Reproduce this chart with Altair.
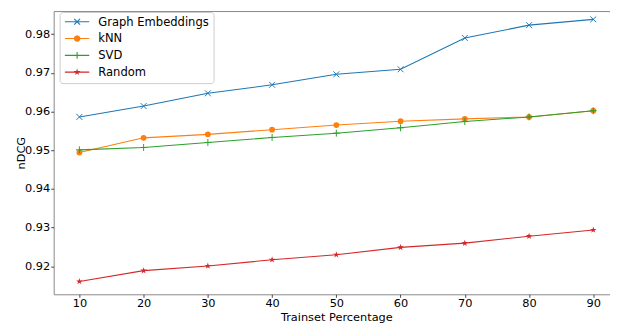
import math
import altair as alt
import pandas as pd

# ---- data ----
pct = [10, 20, 30, 40, 50, 60, 70, 80, 90]
graph_emb = [0.9586, 0.9614, 0.9647, 0.9669, 0.9696, 0.9709, 0.9790, 0.9823, 0.9838]
knn = [0.9494, 0.9532, 0.9541, 0.9553, 0.9565, 0.9575, 0.9581, 0.9586, 0.9602]
svd = [0.9501, 0.9507, 0.9520, 0.9533, 0.9544, 0.9558, 0.9574, 0.9586, 0.9602]
rand = [0.9161, 0.9189, 0.9201, 0.9217, 0.9230, 0.9249, 0.9260, 0.9278, 0.9294]
series_names = ["Graph Embeddings", "kNN", "SVD", "Random"]
y_ticks = [0.92, 0.93, 0.94, 0.95, 0.96, 0.97, 0.98]

colors = ["#1f77b4", "#ff7f0e", "#2ca02c", "#d62728"]

rows = []
for name, vals in zip(series_names, [graph_emb, knn, svd, rand]):
    for p, v in zip(pct, vals):
        rows.append({"pct": p, "value": v, "series": name})
df = pd.DataFrame(rows)

# ---- marker shapes (unit paths) ----
def star_pts(cx, r):
    pts = []
    for k in range(10):
        ang = math.radians(-90 + 36 * k)
        rr = r if k % 2 == 0 else r * 0.382
        pts.append((cx + rr * math.cos(ang), rr * math.sin(ang)))
    return pts

def poly(pts):
    return "M" + "L".join(f"{x:.3f},{y:.3f}" for x, y in pts) + "Z"

def bar(p0, p1, t):
    dx, dy = p1[0] - p0[0], p1[1] - p0[1]
    ln = math.hypot(dx, dy)
    ux, uy = dx / ln, dy / ln
    nx, ny = -uy, ux
    return poly([(p0[0] - nx * t, p0[1] - ny * t), (p1[0] - nx * t, p1[1] - ny * t),
                 (p1[0] + nx * t, p1[1] + ny * t), (p0[0] + nx * t, p0[1] + ny * t)])

def circ(cx, r, n=28):
    return poly([(cx + r * math.cos(2 * math.pi * k / n), r * math.sin(2 * math.pi * k / n))
                 for k in range(n)])

x_path = "M-1,-1L1,1M-1,1L1,-1"
plus_path = "M-1,0L1,0M0,-1L0,1"
star_path = poly(star_pts(0, 1))
marker_shapes = [x_path, "circle", plus_path, star_path]
marker_sizes = [36, 34, 49, 49]
marker_filled = [False, True, False, True]

# legend symbols: line + marker, all filled (unit = 4px for symbolSize 64)
c = 1.97
t = 0.14
line = bar((-1.125, 0), (5.05, 0), t)
leg_paths = [
    line + bar((c - 0.75, -0.75), (c + 0.75, 0.75), t) + bar((c - 0.75, 0.75), (c + 0.75, -0.75), t),
    line + circ(c, 0.82),
    line + bar((c - 0.85, 0), (c + 0.85, 0), t) + bar((c, -0.85), (c, 0.85), t),
    line + poly(star_pts(c, 0.9)),
]

x_enc = alt.X("pct:Q", scale=alt.Scale(domain=[6, 94], nice=False, zero=False),
              axis=alt.Axis(values=pct, format="d", title="Trainset Percentage"))
y_scale = alt.Scale(domain=[0.91279, 0.98594], nice=False, zero=False)
y_axis = alt.Axis(values=y_ticks, format=".2f", title="nDCG")
y_enc = alt.Y("value:Q", scale=y_scale, axis=y_axis)

base = alt.Chart(df)
layers = []
for i, s in enumerate(series_names):
    sub = base.transform_filter(alt.datum.series == s)
    layers.append(sub.mark_line(strokeWidth=1.1, opacity=1, color=colors[i]).encode(x=x_enc, y=y_enc))
    layers.append(
        sub.mark_point(shape=marker_shapes[i], size=marker_sizes[i], filled=marker_filled[i],
                       strokeWidth=1, opacity=1, color=colors[i]).encode(x=x_enc, y=y_enc)
    )

leg = dict(title=None, orient="none", legendX=6, legendY=1, padding=4,
           labelFontSize=11.7, labelFont="DejaVu Sans", labelColor="black",
           symbolSize=64, symbolStrokeWidth=0, labelOffset=23.5, rowPadding=4,
           strokeColor="#cccccc", fillColor="white", cornerRadius=3, symbolOpacity=1)
# legend-only layer: its points sit above the plot area and are clipped away
legend_layer = base.transform_calculate(off="datum.value + 1").mark_point(
    filled=True, opacity=1, clip=True, size=64).encode(
    x=x_enc,
    y=alt.Y("off:Q", scale=y_scale, axis=y_axis),
    color=alt.Color("series:N", scale=alt.Scale(domain=series_names, range=colors),
                    legend=alt.Legend(**leg)),
    shape=alt.Shape("series:N", scale=alt.Scale(domain=series_names, range=leg_paths),
                    legend=alt.Legend(**leg)),
)
layers.append(legend_layer)

chart = alt.layer(*layers).properties(
    width=572.8, height=287,
    autosize=alt.AutoSizeParams(type="none"),
    padding={"left": 46.3, "top": 1, "right": -9.1, "bottom": 29},
).configure(font="DejaVu Sans").configure_view(
    stroke="#888888", strokeWidth=1
).configure_axis(
    grid=False, domain=False, labelFontSize=11.5, labelColor="black", labelFont="DejaVu Sans",
    tickSize=3, tickColor="#444444", labelPadding=1,
    titleFontSize=11.5, titleFontWeight="normal", titleColor="black", titleFont="DejaVu Sans",
).configure_axisX(labelPadding=0.5, titlePadding=2.2).configure_axisY(titlePadding=-1.9)

chart.save("out.html", embed_options={"renderer": "svg", "actions": False})
